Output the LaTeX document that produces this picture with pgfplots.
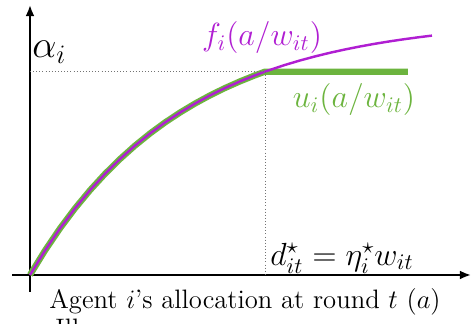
\documentclass[border=0pt]{standalone}
\usepackage{pgfplots}
\pgfplotsset{compat=1.18}
\usetikzlibrary{arrows.meta}
\definecolor{fgreen}{RGB}{108,180,62}
\definecolor{fpurple}{RGB}{176,30,210}
\pgfplotstableread{
x y
0 0
15 24.46
30 46.59
45 66.61
60 84.73
75 101.12
90 115.95
105 129.38
120 141.52
135 152.51
150 162.45
165 171.45
180 179.59
195 186.96
210 193.62
225 199.65
235 203.35
240 205.11
255 210.05
270 214.52
285 218.56
300 222.22
315 225.53
330 228.52
345 231.23
360 233.68
375 235.90
390 237.91
402 239.38
}\fcurve
\pgfplotstableread{
x y
0 0
15 24.46
30 46.59
45 66.61
60 84.73
75 101.12
90 115.95
105 129.38
120 141.52
135 152.51
150 162.45
165 171.45
180 179.59
195 186.96
210 193.62
225 199.65
235 203.35
378 203.35
}\ucurve
\begin{document}
\begin{tikzpicture}
\begin{axis}[
  x=0.45pt, y=0.45pt,
  axis lines=middle,
  xmin=-18, xmax=441, ymin=-17, ymax=270,
  ticks=none,
  clip=false,
  axis line style={line width=0.9pt, -{Latex[length=5pt,width=4pt]}},
]
\addplot[fgreen, line width=2.8pt, line join=round] table {\ucurve};
\addplot[fpurple, line width=1.1pt] table {\fcurve};
\addplot[gray!90!black, densely dotted, thin] coordinates {(0,203.35) (235,203.35)};
\addplot[gray!90!black, densely dotted, thin] coordinates {(235,203.35) (235,0)};
\node[anchor=south west, inner sep=0pt] at (axis cs:2,211) {\LARGE $\alpha_i$};
\node[fpurple] at (axis cs:232,237) {\Large $f_i(a/w_{it})$};
\node[fgreen] at (axis cs:324,175) {\Large $u_i(a/w_{it})$};
\node[anchor=west, inner sep=0pt] at (axis cs:240,17) {\Large $d^\star_{it}=\eta^\star_i w_{it}$};
\node at (axis cs:215,-27) {\large Agent $i$'s allocation at round $t$ $(a)$};
\node[anchor=north west, inner sep=0pt] at (axis cs:25,-44) {\large Ill};
\coordinate (bl) at (axis cs:-30,-49);
\coordinate (tr) at (axis cs:441,275);
\end{axis}
\pgfresetboundingbox
\path[use as bounding box] (bl) rectangle (tr);
\end{tikzpicture}
\end{document}
